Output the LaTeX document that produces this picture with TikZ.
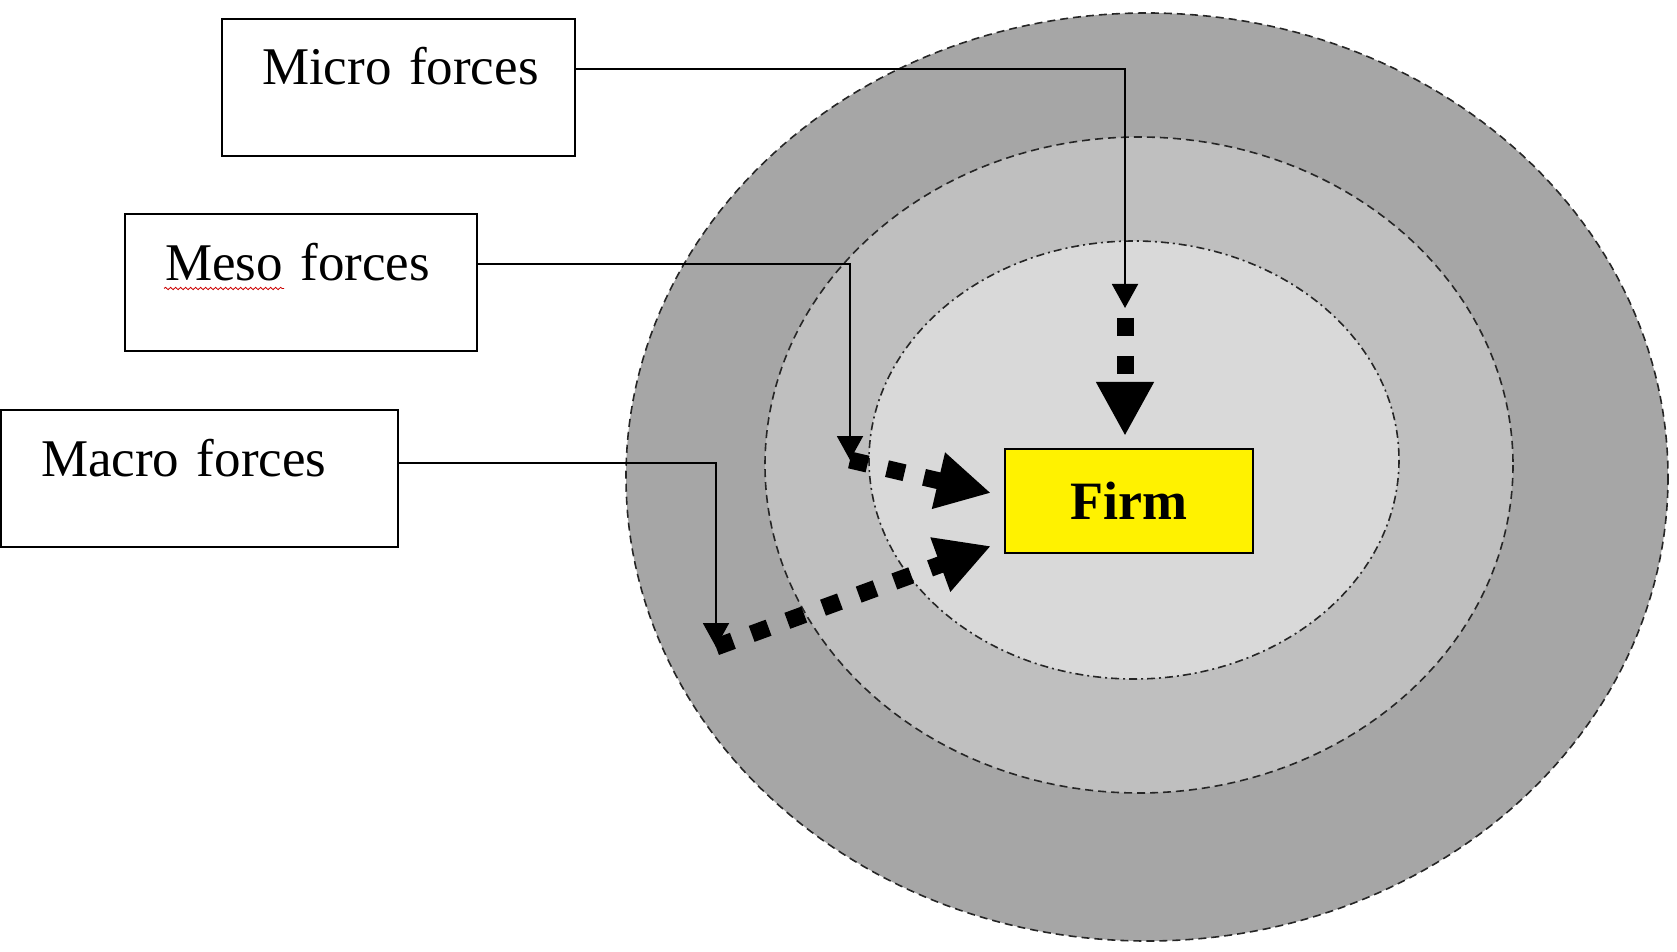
\documentclass[tikz,border=0pt]{standalone}
\usepackage{fontspec}
\setmainfont{Liberation Serif}[WordSpace=0.6]
\usepackage{tikz}
\usetikzlibrary{positioning,arrows.meta,decorations.pathmorphing}
\definecolor{ringout}{HTML}{A6A6A6}
\definecolor{ringmid}{HTML}{BFBFBF}
\definecolor{ringin}{HTML}{D9D9D9}

\begin{document}
\begin{tikzpicture}[x=0.5pt,y=-0.5pt,
  ring/.style={fill=#1,draw=black!85,line width=0.8pt,dash pattern=on 4pt off 2.5pt},
  core/.style={fill=#1,draw=black!85,line width=0.8pt,dash pattern=on 4pt off 2pt on 1pt off 2pt},
  forces/.style={draw,line width=1pt,fill=white,inner xsep=20pt,inner ysep=0pt,text width=#1,align=left,text height=33pt,text depth=35.5pt,font=\fontsize{26.5}{30}\selectfont},
  firmbox/.style={draw,line width=1pt,fill=yellow,minimum width=124pt,minimum height=52pt,inner sep=0pt,font=\bfseries\fontsize{27}{30}\selectfont},
  link/.style={line width=1pt,-{Triangle[length=12pt,width=13pt]}},
  push/.style={line width=8.5pt,dash pattern=on 9pt off 10pt,-{Triangle[length=27pt,width=27pt]}},
  spellmark/.style={red!80!black,line width=0.4pt,decorate,decoration={snake,amplitude=0.6pt,segment length=2.5pt}}]
  \useasboundingbox (0,0) rectangle (1677,952);

  % rings round the firm
  \draw[ring=ringout] (1147,477) ellipse [x radius=521, y radius=464];
  \draw[ring=ringmid] (1139,465) ellipse [x radius=374, y radius=328];
  \draw[core=ringin] (1134,460) ellipse [x radius=265, y radius=219];

  \node[firmbox] (firm) at (1129,501) {Firm};

  % the three kinds of forces
  \node[forces=136.5pt] (micro) at (398.5,87.5) {\mbox{Micro forces}};
  \node[forces=136pt] (meso) at (301,283) {\mbox{Meso forces}};
  \node[forces=158.5pt] (macro) at (199.5,478.5) {\mbox{Macro forces}};
  \draw[spellmark] ([shift={(20pt,-4pt)}]meso.base west) -- ++(120,0);

  \coordinate (microtip) at ([shift={(-2pt,70pt)}]firm.north);
  \coordinate (mesotip) at (850,460);
  \coordinate (macrotip) at (716,647);

  \draw[link] ([yshift=-25.5pt]micro.north east) -| (microtip);
  \draw[link] ([yshift=-25.5pt]meso.north east) -| (mesotip);
  \draw[link] ([yshift=-27pt]macro.north east) -| (macrotip);

  \draw[push] ([yshift=-5pt]microtip) -- ([shift={(-2pt,6pt)}]firm.north);
  \draw[push] (mesotip) -- ([shift={(-6.5pt,4pt)}]firm.west);
  \draw[push] (macrotip) -- ([shift={(-6.5pt,4pt)}]firm.south west);
\end{tikzpicture}
\end{document}
